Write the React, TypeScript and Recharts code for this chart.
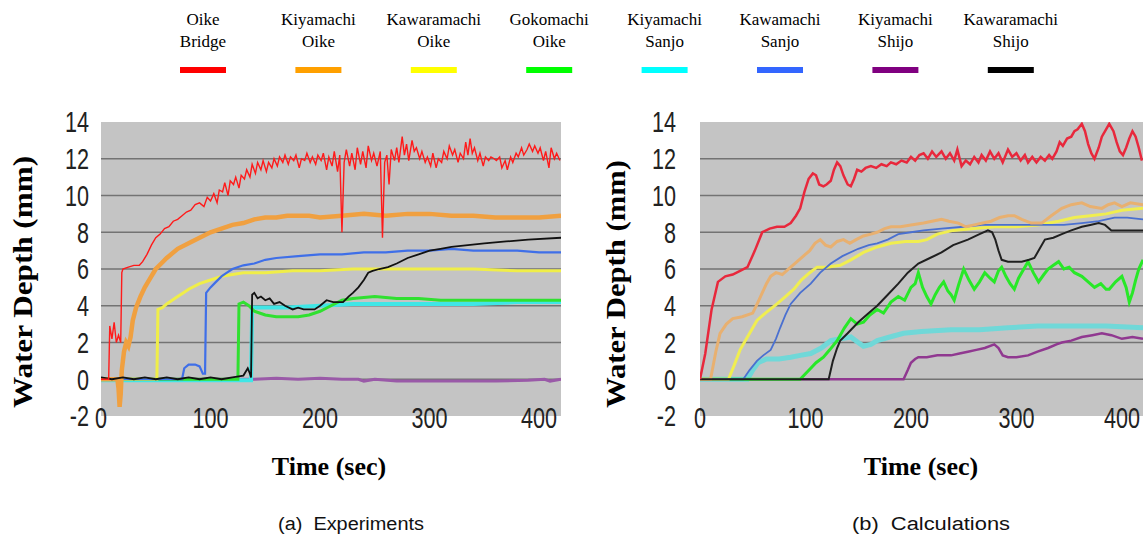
import React from 'react';
import { LineChart, Line, XAxis, YAxis, CartesianGrid } from 'recharts';

type Pt = [number, number];

const seriesNames = ['Oike Bridge', 'Kiyamachi Oike', 'Kawaramachi Oike', 'Gokomachi Oike', 'Kiyamachi Sanjo', 'Kawamachi Sanjo', 'Kiyamachi Shijo', 'Kawaramachi Shijo'];
const legendLines = [['Oike', 'Bridge'], ['Kiyamachi', 'Oike'], ['Kawaramachi', 'Oike'], ['Gokomachi', 'Oike'], ['Kiyamachi', 'Sanjo'], ['Kawamachi', 'Sanjo'], ['Kiyamachi', 'Shijo'], ['Kawaramachi', 'Shijo']];
const legendColors = ['#ff0000', '#ffa000', '#ffff00', '#00ff00', '#00ffff', '#3366ff', '#800080', '#000000'];
const expColors = ['#ff1a1a', '#f0a040', '#f0ee48', '#30e030', '#40e6e6', '#3f6fe8', '#9a5aa8', '#111111'];
const expWidths = [1.4, 4.5, 3, 3, 4, 2.2, 3, 1.8];
const calcColors = ['#e8283c', '#e8b070', '#f0ee50', '#28e828', '#70d8d8', '#4a70d0', '#903890', '#202020'];
const calcWidths = [2.5, 3, 3, 3, 5, 1.8, 2.5, 2];
const drawOrder = [6, 4, 3, 2, 5, 1, 7, 0];

const yTicks = [-2, 0, 2, 4, 6, 8, 10, 12, 14];
const gridValues = [0, 2, 4, 6, 8, 10, 12];
const xTicks = [0, 100, 200, 300, 400];
const xDomain = [0, 420];
const yDomain = [-2, 14];

// ---------- (a) Experiments ----------
const expOikeBridge: Pt[] = [[0,0],[7,0],[8,2.9],[10,2.2],[12,3.1],[14,2.0],[16,2.4],[18,2.0],[19,5.8],[20,6.0],[25,6.1],[30,6.2],[35,6.2],[38,6.4],[42,6.8],[46,7.3],[50,7.7],[54,7.9],[58,8.2],[62,8.3],[66,8.6],[70,8.7],[74,8.9],[78,9.1],[82,9.2],[86,9.5],[90,9.6],[94,9.4],[97,9.9],[100,9.7],[103,10.1],[106,9.6],[108,10.3],[111,10.2],[113,10.7],[116,10.0],[118,10.8],[121,10.6],[123,11.0],[126,10.4],[128,11.1],[131,10.9],[133,11.4],[136,11.0],[138,11.7],[141,11.2],[143,11.8],[146,11.4],[148,11.9],[151,11.3],[153,11.8],[156,11.5],[158,12.0],[161,11.6],[163,12.1],[166,11.8],[168,12.2],[171,11.7],[173,12.1],[176,11.9],[178,12.2],[181,11.5],[183,12.0],[186,11.9],[188,12.3],[191,11.8],[193,12.1],[196,11.7],[198,12.2],[201,11.9],[203,12.3],[206,11.4],[208,12.1],[211,11.6],[213,12.4],[216,11.3],[218,12.2],[220,8.0],[222,11.8],[224,12.5],[227,11.6],[229,12.3],[232,11.4],[234,12.6],[237,11.7],[239,12.4],[242,11.5],[244,12.7],[247,11.9],[249,12.3],[252,11.6],[255,12.4],[257,7.7],[259,11.8],[261,12.2],[263,10.6],[265,12.5],[268,11.9],[270,12.6],[272,11.8],[275,13.2],[277,12.2],[279,12.8],[281,11.9],[284,13.0],[286,12.4],[288,12.6],[291,12.0],[293,12.4],[296,11.8],[298,12.1],[301,11.6],[303,12.3],[306,11.5],[308,12.0],[311,11.8],[313,12.4],[316,12.0],[318,12.7],[321,12.2],[323,12.5],[326,11.8],[328,12.3],[331,12.0],[333,12.9],[335,12.2],[337,13.1],[339,12.3],[341,12.6],[344,11.9],[346,12.3],[349,11.6],[351,12.1],[354,11.9],[356,12.1],[359,12.0],[361,11.9],[364,12.1],[366,11.5],[369,11.9],[371,11.4],[374,12.1],[376,11.8],[379,12.3],[381,12.1],[384,12.6],[386,12.2],[389,12.5],[391,12.8],[394,12.4],[396,12.7],[399,12.3],[401,12.6],[404,11.9],[406,12.4],[409,11.5],[411,12.6],[414,12.0],[416,12.3],[419,11.9]];
const expKiyamachiOike: Pt[] = [[0,0],[15,0],[16,-0.5],[17,-1.5],[18,-0.8],[19,0.5],[21,1.5],[23,2.0],[25,1.8],[27,2.3],[29,3.2],[32,3.9],[36,4.5],[40,5.0],[45,5.5],[50,6.0],[55,6.3],[60,6.6],[70,7.1],[80,7.4],[90,7.7],[100,8.0],[110,8.2],[120,8.4],[130,8.5],[140,8.7],[150,8.8],[160,8.8],[170,8.9],[180,8.9],[190,8.9],[200,8.8],[220,8.9],[240,9.0],[260,8.9],[280,9.0],[300,9.0],[320,8.9],[340,8.9],[360,8.8],[380,8.8],[400,8.8],[420,8.9]];
const expKawaramachiOike: Pt[] = [[0,0],[51,0],[52,3.8],[56,3.9],[60,4.1],[65,4.3],[70,4.5],[75,4.7],[80,4.9],[90,5.2],[100,5.4],[110,5.6],[120,5.7],[130,5.8],[150,5.8],[175,5.9],[200,5.9],[230,6.0],[260,6.0],[300,6.0],[340,6.0],[380,5.9],[420,5.9]];
const expGokomachiOike: Pt[] = [[0,0],[125,0],[126,4.1],[130,4.2],[135,4.0],[140,3.7],[150,3.5],[160,3.4],[170,3.4],[180,3.4],[190,3.5],[200,3.7],[210,4.0],[220,4.3],[230,4.4],[250,4.5],[270,4.4],[290,4.4],[310,4.3],[340,4.3],[370,4.3],[400,4.3],[420,4.3]];
const expKiyamachiSanjo: Pt[] = [[0,-0.05],[137,-0.05],[138,3.9],[150,3.9],[170,3.9],[200,4.0],[230,4.1],[260,4.1],[300,4.1],[340,4.1],[380,4.2],[420,4.2]];
const expKawamachiSanjo: Pt[] = [[0,0],[74,0],[76,0.6],[80,0.8],[86,0.8],[90,0.7],[93,0.3],[95,0.3],[96,4.7],[100,5.0],[105,5.3],[110,5.6],[115,5.8],[120,6.0],[130,6.2],[140,6.3],[150,6.5],[160,6.6],[180,6.7],[200,6.8],[220,6.8],[240,6.9],[260,6.9],[280,7.0],[300,7.0],[320,7.1],[340,7.0],[360,7.0],[380,7.0],[400,6.9],[420,6.9]];
const expKiyamachiShijo: Pt[] = [[0,0],[140,0],[160,0.05],[180,0],[200,0.05],[220,0],[235,0],[240,-0.1],[250,0],[270,-0.1],[300,-0.1],[330,-0.1],[360,-0.1],[390,-0.05],[405,0],[410,-0.1],[420,0]];
const expKawaramachiShijo: Pt[] = [[0,0.1],[10,0.0],[20,0.1],[30,0.0],[40,0.1],[50,0.0],[60,0.1],[70,0.0],[80,0.1],[90,0.0],[100,0.1],[110,0.0],[120,0.1],[130,0.2],[134,0.6],[136,0.3],[137,0.1],[138,4.6],[140,4.7],[143,4.4],[146,4.5],[150,4.3],[154,4.4],[158,4.1],[163,4.2],[168,4.0],[175,3.8],[180,3.9],[185,3.8],[190,3.8],[195,3.8],[200,4.0],[206,4.3],[212,4.2],[217,4.2],[221,4.2],[226,4.5],[230,4.7],[235,5.0],[240,5.4],[244,5.8],[248,5.9],[254,6.0],[262,6.1],[270,6.3],[280,6.6],[290,6.8],[300,7.0],[310,7.1],[320,7.2],[335,7.3],[350,7.4],[370,7.5],[390,7.6],[420,7.7]];

// ---------- (b) Calculations ----------
const calcOikeBridge: Pt[] = [[0,0],[5,1.4],[11,3.8],[17,5.3],[24,5.6],[31,5.7],[38,5.9],[45,6.1],[52,7.0],[59,8.0],[66,8.2],[73,8.3],[80,8.3],[86,8.5],[91,8.9],[95,9.3],[99,10.2],[103,10.9],[107,11.2],[110,11.1],[113,10.6],[117,10.5],[120,10.6],[124,10.8],[127,11.4],[130,11.8],[133,11.6],[136,11.1],[140,10.6],[143,10.5],[146,10.9],[149,11.4],[153,11.3],[157,11.5],[162,11.6],[167,11.5],[172,11.7],[177,11.6],[181,11.8],[186,11.7],[191,11.9],[196,11.8],[200,12.1],[204,11.9],[208,12.2],[212,12.3],[216,12.0],[220,12.4],[224,12.1],[229,12.4],[233,12.0],[237,12.3],[241,11.9],[244,12.5],[248,11.6],[252,11.9],[256,11.7],[260,12.1],[264,11.8],[267,12.2],[271,11.9],[275,12.4],[279,12.0],[283,12.3],[287,11.8],[292,12.5],[296,12.1],[300,12.3],[304,11.9],[308,12.2],[311,11.8],[315,12.1],[319,11.8],[323,12.1],[327,11.9],[331,12.2],[334,12.0],[338,12.4],[341,12.9],[344,12.7],[348,13.1],[352,13.2],[355,13.5],[358,13.6],[362,13.9],[365,13.5],[368,12.8],[371,12.3],[374,12.0],[378,12.6],[381,13.2],[385,13.6],[388,13.9],[392,13.5],[395,12.9],[398,12.4],[401,12.2],[404,12.6],[407,13.1],[410,13.5],[413,13.2],[416,12.6],[419,11.9]];
const calcKiyamachiOike: Pt[] = [[0,0],[10,0],[15,1.5],[19,2.5],[25,3.0],[31,3.3],[40,3.4],[50,3.6],[55,4.2],[59,4.7],[63,5.2],[67,5.6],[72,5.8],[78,5.7],[86,6.1],[92,6.4],[98,6.7],[104,7.0],[109,7.4],[114,7.6],[119,7.3],[124,7.2],[130,7.5],[136,7.6],[142,7.4],[148,7.6],[155,7.8],[162,7.9],[168,8.0],[175,8.2],[181,8.3],[190,8.3],[200,8.4],[212,8.5],[220,8.6],[229,8.7],[236,8.6],[245,8.5],[252,8.3],[260,8.4],[268,8.5],[276,8.6],[284,8.8],[292,8.9],[298,8.9],[305,8.7],[314,8.5],[324,8.5],[333,8.9],[343,9.3],[352,9.5],[362,9.6],[370,9.4],[381,9.3],[387,9.5],[393,9.6],[400,9.4],[408,9.6],[420,9.5]];
const calcKawaramachiOike: Pt[] = [[0,0],[27,0],[32,0.7],[38,1.6],[45,2.3],[54,3.2],[62,3.6],[73,4.1],[81,4.5],[89,4.9],[96,5.4],[104,5.8],[111,6.1],[120,6.1],[133,6.2],[143,6.5],[155,6.9],[168,7.2],[181,7.4],[195,7.5],[207,7.5],[215,7.6],[225,7.9],[240,8.1],[260,8.2],[280,8.3],[300,8.3],[320,8.4],[340,8.6],[355,8.8],[370,8.9],[385,9.0],[400,9.2],[420,9.3]];
const calcGokomachiOike: Pt[] = [[0,0],[95,0],[100,0.3],[105,0.6],[110,0.9],[117,1.2],[123,1.6],[130,2.1],[137,2.8],[143,3.3],[149,3.0],[155,3.1],[161,3.5],[168,3.8],[174,3.6],[181,4.2],[188,4.5],[194,4.3],[200,5.0],[204,5.2],[207,5.8],[211,5.0],[215,4.5],[219,4.1],[223,4.6],[227,5.0],[231,5.3],[235,4.8],[238,4.6],[241,4.3],[245,5.1],[250,6.0],[255,5.4],[260,4.9],[265,5.3],[270,5.8],[275,5.5],[279,5.3],[283,5.9],[286,6.1],[290,5.6],[294,5.2],[298,4.9],[302,5.5],[307,6.0],[311,6.4],[316,5.8],[321,5.3],[326,5.7],[330,6.0],[335,6.2],[340,6.4],[345,6.0],[350,6.1],[355,5.8],[362,5.6],[368,5.3],[374,5.0],[380,5.2],[385,4.9],[388,4.9],[394,5.3],[400,5.6],[404,5.0],[407,4.2],[410,4.7],[413,5.4],[416,6.0],[420,6.5]];
const calcKiyamachiSanjo: Pt[] = [[0,0],[45,0],[50,0.5],[55,0.9],[63,1.1],[75,1.1],[86,1.2],[95,1.3],[105,1.4],[115,1.7],[124,2.1],[133,2.2],[143,2.3],[150,2.0],[155,1.8],[162,1.9],[168,2.1],[180,2.3],[193,2.5],[210,2.6],[238,2.7],[265,2.7],[292,2.8],[320,2.9],[355,2.9],[385,2.9],[420,2.8]];
const calcKawamachiSanjo: Pt[] = [[0,0],[41,0],[47,0.5],[54,1.0],[60,1.3],[67,1.6],[72,2.2],[76,2.8],[81,3.5],[86,4.1],[95,4.7],[105,5.2],[114,5.8],[124,6.3],[135,6.7],[150,7.1],[160,7.3],[168,7.4],[178,7.6],[188,7.9],[200,8.0],[212,8.1],[229,8.2],[250,8.3],[267,8.4],[290,8.4],[310,8.4],[324,8.4],[345,8.4],[362,8.5],[378,8.6],[393,8.8],[405,8.8],[420,8.7]];
const calcKiyamachiShijo: Pt[] = [[0,0],[193,0],[197,0.5],[200,0.9],[204,1.1],[207,1.2],[215,1.2],[225,1.3],[238,1.3],[246,1.4],[254,1.5],[262,1.6],[270,1.7],[279,1.9],[283,1.7],[287,1.3],[292,1.2],[300,1.2],[311,1.3],[320,1.5],[330,1.7],[338,1.9],[343,2.0],[352,2.1],[362,2.3],[372,2.4],[381,2.5],[390,2.4],[400,2.2],[410,2.3],[420,2.2]];
const calcKawaramachiShijo: Pt[] = [[0,0],[122,0],[126,1.0],[130,1.7],[133,2.1],[140,2.5],[150,3.1],[160,3.6],[168,4.0],[178,4.6],[188,5.2],[197,5.8],[207,6.3],[218,6.6],[229,6.9],[240,7.3],[254,7.6],[265,7.9],[273,8.1],[277,8.0],[280,7.6],[283,7.0],[286,6.5],[292,6.4],[298,6.4],[305,6.4],[312,6.5],[317,6.6],[322,7.1],[327,7.6],[335,7.7],[343,7.9],[352,8.1],[362,8.3],[370,8.4],[378,8.5],[384,8.4],[390,8.1],[400,8.1],[410,8.1],[420,8.1]];

const expSeries = [expOikeBridge, expKiyamachiOike, expKawaramachiOike, expGokomachiOike, expKiyamachiSanjo, expKawamachiSanjo, expKiyamachiShijo, expKawaramachiShijo];
const calcSeries = [calcOikeBridge, calcKiyamachiOike, calcKawaramachiOike, calcGokomachiOike, calcKiyamachiSanjo, calcKawamachiSanjo, calcKiyamachiShijo, calcKawaramachiShijo];

const toRows = (pts: Pt[]) => pts.map(([t, v]) => ({ t, v }));

const TICK_FONT = "'Liberation Sans', Arial, sans-serif";

const YTick = (props: any) => {
  const { x, y, payload } = props;
  return (
    <text transform={`translate(${x},${y}) scale(0.72,1)`} textAnchor="end" dominantBaseline="central" fontSize={30} fontFamily={TICK_FONT} fill="#222">
      {payload.value}
    </text>
  );
};

const XTick = (props: any) => {
  const { x, y, payload } = props;
  return (
    <text transform={`translate(${x},${y + 2}) scale(0.72,1)`} textAnchor="middle" dominantBaseline="central" fontSize={30} fontFamily={TICK_FONT} fill="#222">
      {payload.value}
    </text>
  );
};

const Panel = ({ series, colors, widths, width, margin, yTickMargin }: any) => (
  <LineChart width={width} height={537} margin={margin}>
    <CartesianGrid vertical={false} fill="#c4c4c4" stroke="#737373" strokeWidth={1.5} horizontalValues={gridValues} />
    <XAxis type="number" dataKey="t" domain={xDomain} ticks={xTicks} allowDataOverflow axisLine={false} tickLine={false} tickSize={0} tickMargin={0} height={30} tick={(p: any) => <XTick {...p} />} interval={0} />
    <YAxis type="number" domain={yDomain} ticks={yTicks} allowDataOverflow axisLine={false} tickLine={false} tickSize={0} tickMargin={yTickMargin} width={60} tick={(p: any) => <YTick {...p} />} interval={0} />
    {drawOrder.map((i: number) => (
      <Line key={seriesNames[i]} name={seriesNames[i]} data={toRows(series[i])} dataKey="v" type="linear" stroke={colors[i]} strokeWidth={widths[i]} dot={false} activeDot={false} isAnimationActive={false} />
    ))}
  </LineChart>
);

const SERIF = "'Liberation Serif', 'Times New Roman', serif";
const SANS = "'Liberation Sans', Arial, sans-serif";

export default function App() {
  return (
    <div style={{ position: 'absolute', left: 0, top: 0, width: 1143, height: 537, background: '#fff', overflow: 'hidden' }}>
      <div style={{ position: 'absolute', left: 0, top: 0 }}>
        <Panel series={expSeries} colors={expColors} widths={expWidths} width={580} margin={{ top: 122, right: 19, bottom: 91, left: 41 }} yTickMargin={12} />
      </div>
      <div style={{ position: 'absolute', left: 580, top: 0 }}>
        <Panel series={calcSeries} colors={calcColors} widths={calcWidths} width={563} margin={{ top: 122, right: 0, bottom: 91, left: 60 }} yTickMargin={24} />
      </div>
      <svg width={1143} height={537} style={{ position: 'absolute', left: 0, top: 0, pointerEvents: 'none' }}>
        {legendLines.map((lines, i) => {
          const cx = 203 + i * 115.4;
          return (
            <g key={i}>
              <text x={cx} y={19} textAnchor="middle" dominantBaseline="central" fontSize={17} fontFamily={SERIF} fill="#000">{lines[0]}</text>
              <text x={cx} y={41} textAnchor="middle" dominantBaseline="central" fontSize={17} fontFamily={SERIF} fill="#000">{lines[1]}</text>
              <rect x={cx - 23} y={67} width={46} height={6} fill={legendColors[i]} />
            </g>
          );
        })}
        <text transform="translate(23,282) rotate(-90)" textAnchor="middle" dominantBaseline="central" fontSize={27} fontWeight="bold" fontFamily={SERIF} fill="#000" textLength={252} lengthAdjust="spacingAndGlyphs">Water Depth (mm)</text>
        <text transform="translate(616,284) rotate(-90)" textAnchor="middle" dominantBaseline="central" fontSize={27} fontWeight="bold" fontFamily={SERIF} fill="#000" textLength={248} lengthAdjust="spacingAndGlyphs">Water Depth (mm)</text>
        <text x={329} y={466} textAnchor="middle" dominantBaseline="central" fontSize={26} fontWeight="bold" fontFamily={SERIF} fill="#000">Time (sec)</text>
        <text x={921} y={466} textAnchor="middle" dominantBaseline="central" fontSize={26} fontWeight="bold" fontFamily={SERIF} fill="#000">Time (sec)</text>
        <text x={351} y={524} textAnchor="middle" dominantBaseline="central" fontSize={18} fontFamily={SANS} fill="#111" textLength={146} lengthAdjust="spacingAndGlyphs" style={{ whiteSpace: 'pre' }}>{'(a)  Experiments'}</text>
        <text x={931} y={524} textAnchor="middle" dominantBaseline="central" fontSize={18} fontFamily={SANS} fill="#111" textLength={158} lengthAdjust="spacingAndGlyphs" style={{ whiteSpace: 'pre' }}>{'(b)  Calculations'}</text>
      </svg>
    </div>
  );
}
